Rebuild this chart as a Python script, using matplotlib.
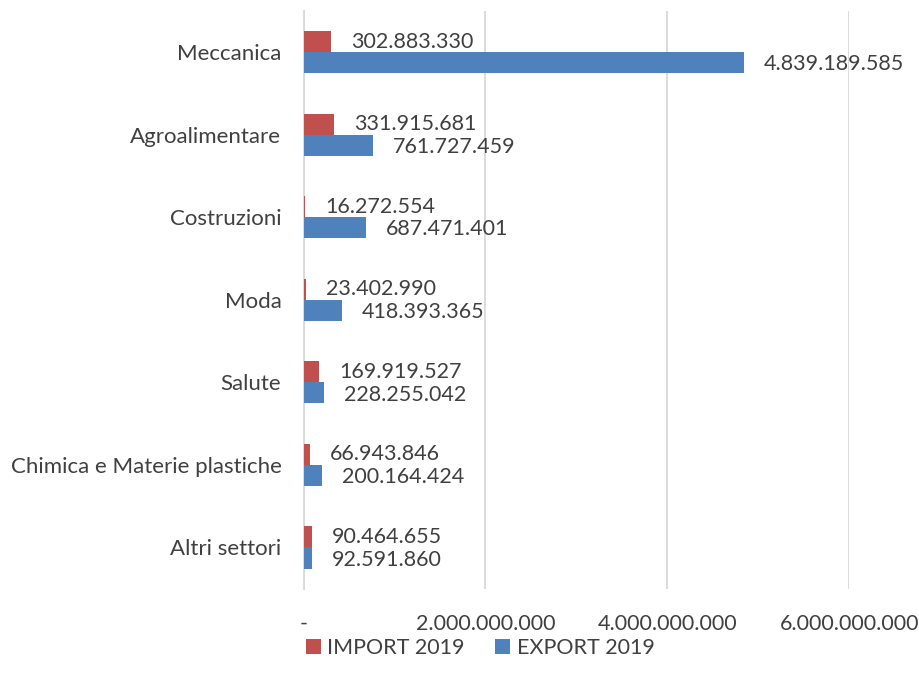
import matplotlib.pyplot as plt
import numpy as np

# settori, valori in euro
categories = ["Meccanica", "Agroalimentare", "Costruzioni", "Moda", "Salute",
              "Chimica e Materie plastiche", "Altri settori"]
import_2019 = [302883330, 331915681, 16272554, 23402990, 169919527, 66943846, 90464655]
export_2019 = [4839189585, 761727459, 687471401, 418393365, 228255042, 200164424, 92591860]
xticks = [0, 2000000000, 4000000000, 6000000000]
xtick_labels = ["-", "2.000.000.000", "4.000.000.000", "6.000.000.000"]


def fmt(v):
    return f"{v:,}".replace(",", ".")


plt.rcParams['font.family'] = ['Lato', 'DejaVu Sans']
text_col = '#404040'
fs = 15.5

fig = plt.figure(figsize=(9.2, 6.83), dpi=100)
ax = fig.add_axes([0.330, 0.138, 0.593, 0.846])

y = np.arange(len(categories))
h = 0.255
ax.barh(y - h / 2, import_2019, height=h, color='#C0504D', label='IMPORT 2019', zorder=3)
ax.barh(y + h / 2, export_2019, height=h, color='#4F81BD', label='EXPORT 2019', zorder=3)

off = 2.2e8
for i in range(len(categories)):
    ax.text(import_2019[i] + off, y[i] - h / 2, fmt(import_2019[i]), va='center', ha='left',
            fontsize=fs, color=text_col)
    ax.text(export_2019[i] + off, y[i] + h / 2 + 0.02, fmt(export_2019[i]), va='center', ha='left',
            fontsize=fs, color=text_col)

ax.set_xlim(0, 6000000000)
ax.set_ylim(len(categories) - 0.5, -0.5)
ax.set_yticks(y)
ax.set_yticklabels(categories, fontsize=16, color=text_col)
ax.set_xticks(xticks)
ax.set_xticklabels(xtick_labels, fontsize=fs, color=text_col)
ax.tick_params(axis='both', length=0)
ax.tick_params(axis='x', pad=18)
ax.tick_params(axis='y', pad=16)
ax.grid(axis='x', color='#d9d9d9', linewidth=1.3, zorder=0)
for s in ['top', 'right', 'bottom']:
    ax.spines[s].set_visible(False)
ax.spines['left'].set_color('#d9d9d9')
ax.spines['left'].set_linewidth(1.3)

fig.legend(loc='lower center', bbox_to_anchor=(0.522, 0.008), ncol=2, frameon=False,
           fontsize=fs, labelcolor=text_col, handlelength=0.7, handleheight=0.7,
           handletextpad=0.3, columnspacing=1.4)

fig.savefig('out.png', dpi=100)
